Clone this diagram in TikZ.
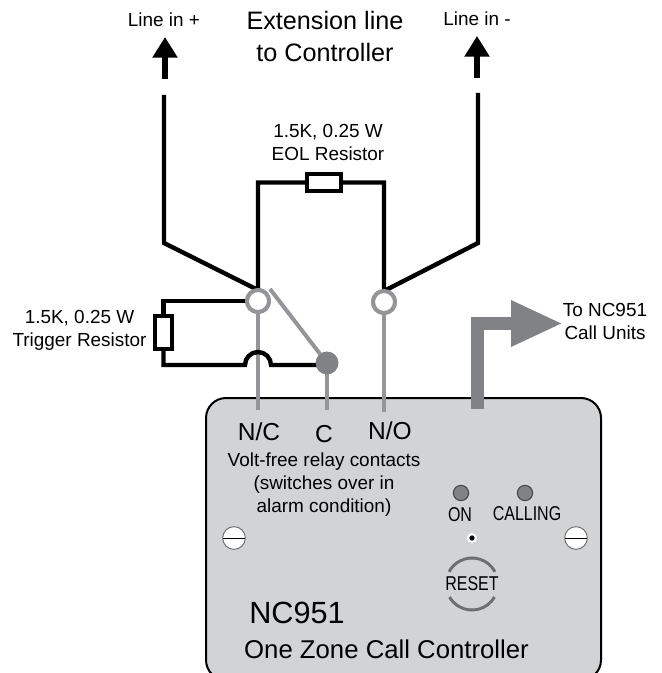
\documentclass[tikz,border=0pt]{standalone}
\usepackage{fontspec}
\setmainfont{Liberation Sans}
\usetikzlibrary{arrows.meta}
\definecolor{panelgrey}{HTML}{D1D3D4}
\definecolor{leadgrey}{HTML}{939598}
\definecolor{darkgrey}{HTML}{808285}
\definecolor{ledgrey}{HTML}{6D6E71}
\newcommand{\txt}[2]{\fontsize{#1}{#2}\selectfont}
\begin{document}
\begin{tikzpicture}[
            x=0.75pt, y=-0.75pt,
            wire/.style={draw=black, line width=3.3pt},
            lead/.style={draw=leadgrey, line width=3pt},
            resistor/.style={rectangle, draw=black, fill=white, line width=3pt, inner sep=0pt, outer sep=0pt},
            contact/.style={circle, draw=leadgrey, fill=white, line width=3pt, minimum size=16.5pt, inner sep=0pt, outer sep=0pt},
            screw/.style={circle, draw=ledgrey, fill=white, line width=0.7pt, minimum size=17pt, inner sep=0pt, outer sep=0pt},
            led/.style={circle, draw=black!75, fill=darkgrey, line width=0.7pt, minimum size=11.5pt, inner sep=0pt},
            uparrow/.style={draw=black, line width=4.5pt, -{Triangle[length=15.5pt,width=18pt]}},
            label/.style={align=center, inner sep=0pt, font=\txt{14.2}{17.25}},
            narrow/.style={inner sep=0pt, font=\txt{15}{18}, xscale=0.8, transform shape}
        ]
            \useasboundingbox (0,0) rectangle (661,673);
            \node[draw=black, fill=panelgrey, line width=1.5pt, rounded corners=15pt, minimum width=296.25pt, minimum height=211.5pt, inner sep=0pt] (panel) at (403.5,539) {};

            % contacts
            \node[contact] (nc) at (258,301) {};
            \node[contact] (no) at (384,302) {};
            \node[circle, fill=darkgrey, minimum size=17pt, inner sep=0pt, outer sep=0pt] (com) at (327,363) {};
            \node[resistor, minimum width=25pt, minimum height=12.5pt] (eol) at (324,182.5) {};
            \node[resistor, minimum width=12.5pt, minimum height=25pt] (trigger) at (163.5,332.5) {};

            \coordinate (ncend) at (258,410);
            \coordinate (comend) at (327,410);
            \coordinate (noend) at (384,412);
            \coordinate (armtop) at (270,289);
            \coordinate (plustop) at (164,95);
            \coordinate (plusbend) at (164,243);
            \coordinate (minustop) at (478,93);
            \coordinate (minusbend) at (478,243);
            \coordinate (eolleft) at (258,182.5);
            \coordinate (eolright) at (384,182.5);
            \coordinate (trigtop) at (163.5,301);
            \coordinate (trigbottom) at (163.5,365);
            \coordinate (humpleft) at (245,365);
            \coordinate (trigend) at (320,365);

            \draw[lead] (nc) -- (ncend);
            \draw[lead] (com) -- (comend);
            \draw[lead] (no) -- (noend);
            \draw[lead] (com) -- (armtop);
            \draw[wire, miter limit=20] (plustop) -- (plusbend) -- (nc.north) -- (eolleft) -- (eol);
            \draw[wire, miter limit=20] (minustop) -- (minusbend) -- (no.north) -- (eolright) -- (eol);
            \draw[wire] (nc.west) -- (trigtop) -- (trigger);
            \draw[wire] (trigger) -- (trigbottom) -- (humpleft) arc[start angle=180, end angle=360, radius=13] -- (trigend);
            \node[contact] at (nc) {};
            \node[contact] at (no) {};
            \node[resistor, minimum width=25pt, minimum height=12.5pt] at (eol) {};
            \node[resistor, minimum width=12.5pt, minimum height=25pt] at (trigger) {};
            \node[circle, fill=darkgrey, minimum size=17pt, inner sep=0pt] at (com) {};

            % arrows
            \coordinate (plusfoot) at (165,79);
            \coordinate (plustip) at (165,37);
            \coordinate (minusfoot) at (477,78);
            \coordinate (minustip) at (477,36);
            \coordinate (unitsfoot) at (477.5,409);
            \coordinate (unitsbend) at (477.5,323.5);
            \coordinate (unitstip) at (563,323.5);
            \draw[uparrow] (plusfoot) -- (plustip);
            \draw[uparrow] (minusfoot) -- (minustip);
            \draw[draw=darkgrey, line width=9.75pt, -{Triangle[length=39pt,width=32pt,fill=darkgrey]}] (unitsfoot) -- (unitsbend) -- (unitstip);

            % outside labels
            \node[label] (linep) at (164,20) {Line in +};
            \node[label] (linem) at (477,19) {Line in -};
            \node[label, font=\txt{18.9}{24}] (extline) at (325,36) {Extension line\\to Controller};
            \node[label] (eollabel) at (328,142.5) {1.5K, 0.25 W\\EOL Resistor};
            \node[label] (triglabel) at (79.5,330.5) {1.5K, 0.25 W\\Trigger Resistor};
            \node[label] (unitslabel) at (605,321.5) {To NC951\\Call Units};

            % panel
            \node[label, font=\txt{18.4}{22}] (nclabel) at (259,432) {N/C};
            \node[label, font=\txt{18.4}{22}] (comlabel) at (324,434) {C};
            \node[label, font=\txt{18.4}{22}] (nolabel) at (390,431) {N/O};
            \node[label] (relaylabel) at (324,485) {Volt-free relay contacts\\(switches over in\\alarm condition)};
            \node[label, font=\txt{23}{27}] (model) at (297,613) {NC951};
            \node[label, font=\txt{19.3}{23}] (modelname) at (386.5,649) {One Zone Call Controller};

            \node[led] (onled) at (461,493) {};
            \node[led] (callled) at (525,493) {};
            \node[narrow] (onlabel) at (460,515) {ON};
            \node[narrow] (calllabel) at (527,514) {CALLING};
            \node[circle, fill=white, minimum size=7.5pt, inner sep=0pt] (hole) at (472,538) {};
            \node[circle, fill=black, minimum size=4pt, inner sep=0pt] at (hole) {};
            \node[narrow] (reset) at (472,584) {RESET};
            \draw[draw=ledgrey, line width=2.2pt] ([shift={(30:26)}]reset.center) arc[start angle=30, end angle=150, radius=26];
            \draw[draw=ledgrey, line width=2.2pt] ([shift={(-28:26)}]reset.center) arc[start angle=-28, end angle=-152, radius=26];

            \node[screw] (screwl) at (234,538) {};
            \node[screw] (screwr) at (576,538) {};
            \draw[draw=black, line width=0.7pt] (screwl.west) -- (screwl.east);
            \draw[draw=black, line width=0.7pt] (screwr.west) -- (screwr.east);
        \end{tikzpicture}
\end{document}
